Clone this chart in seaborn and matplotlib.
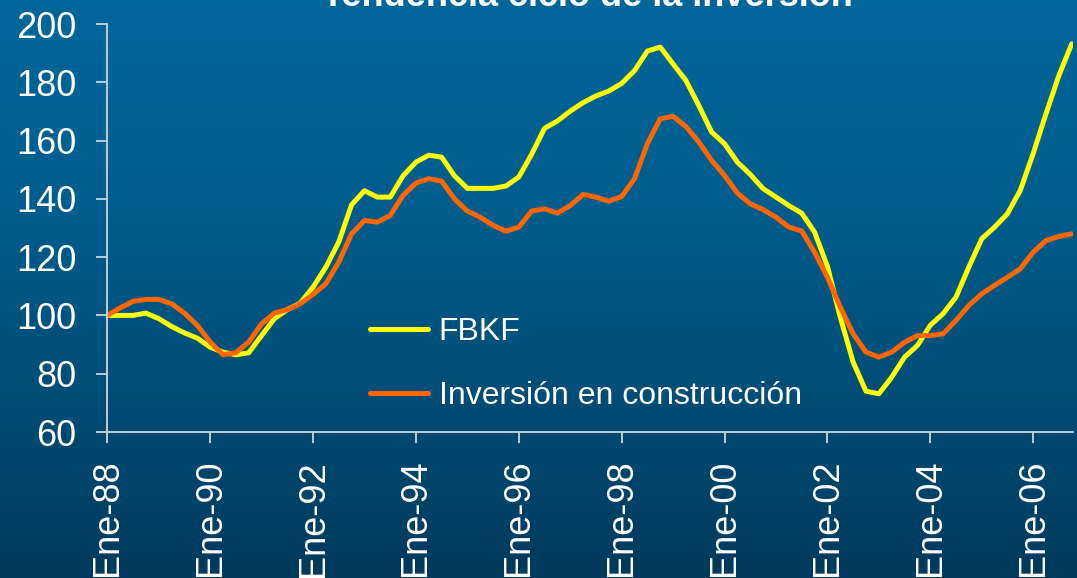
import numpy as np
import pandas as pd
import seaborn as sns
import matplotlib.pyplot as plt
from matplotlib.colors import LinearSegmentedColormap

# --------------------------------------------------
# Data (quarterly index, Ene-88 = 100)
# --------------------------------------------------

fbkf = [
    100.0, 100.0, 100.0, 100.8, 98.9, 96.2, 94.0, 92.2, 89.1, 87.4,
    86.5, 87.2, 93.1, 98.9, 102.0, 104.2, 109.7, 116.6, 125.2, 138.0,
    142.8, 140.6, 140.6, 147.9, 152.6, 155.0, 154.3, 147.9, 143.6, 143.6,
    143.6, 144.4, 147.5, 155.3, 164.2, 166.7, 170.1, 173.0, 175.3, 177.0,
    179.6, 184.0, 190.7, 192.1, 186.3, 180.6, 172.0, 162.9, 158.9, 152.6,
    148.4, 143.5, 140.6, 137.7, 135.1, 128.6, 116.9, 99.4, 84.0, 74.0,
    73.1, 78.8, 85.7, 89.7, 96.6, 100.6, 106.3, 116.6, 126.3, 130.3,
    134.9, 142.9, 155.5, 169.2, 182.3, 193.2,
]

construccion = [
    100.0, 102.6, 104.8, 105.5, 105.5, 104.0, 100.8, 96.6, 90.9, 86.5,
    87.2, 90.9, 97.1, 100.8, 102.0, 104.0, 107.2, 110.9, 118.3, 128.0,
    132.6, 132.0, 134.3, 141.2, 145.4, 146.9, 146.1, 140.0, 135.8, 133.7,
    130.9, 128.9, 130.3, 135.8, 136.6, 135.1, 137.7, 141.5, 140.6, 139.2,
    140.8, 146.9, 158.9, 167.5, 168.3, 164.8, 159.5, 153.2, 148.0, 142.0,
    138.3, 136.3, 133.7, 130.3, 129.0, 121.7, 113.1, 102.9, 93.7, 87.4,
    85.7, 87.4, 90.8, 93.1, 93.1, 93.7, 98.3, 103.4, 107.4, 110.3,
    113.1, 116.0, 121.7, 125.7, 127.1, 128.0,
]

tick_labels = ["Ene-88", "Ene-90", "Ene-92", "Ene-94", "Ene-96",
               "Ene-98", "Ene-00", "Ene-02", "Ene-04", "Ene-06"]

SERIES = ["FBKF", "Inversión en construcción"]
COLORS = {"FBKF": "#FFFF00", "Inversión en construcción": "#FF6600"}

quarters = np.arange(len(fbkf))
df = pd.DataFrame({
    "t": np.concatenate([quarters, quarters]),
    "valor": fbkf + construccion,
    "serie": [SERIES[0]] * len(fbkf) + [SERIES[1]] * len(construccion),
})

# --------------------------------------------------
# Figure
# --------------------------------------------------

sns.set_style("white")
plt.rcParams["font.family"] = ["Liberation Sans", "DejaVu Sans"]

W, H = 1077, 578
fig = plt.figure(figsize=(W / 100, H / 100), dpi=100)

# gradient background
bg = fig.add_axes([0, 0, 1, 1], zorder=0)
cmap = LinearSegmentedColormap.from_list(
    "bg", ["#00679B", "#005E8E", "#004E78", "#003A5C"])
grad = np.linspace(0, 1, 256).reshape(-1, 1)
bg.imshow(grad, aspect="auto", cmap=cmap, extent=[0, 1, 0, 1])
bg.set_axis_off()

ax = fig.add_axes([107.3 / W, 1 - 432 / H, (1073 - 107.3) / W, (432 - 24) / H],
                  zorder=1)
ax.set_facecolor("none")

sns.lineplot(
    data=df, x="t", y="valor", hue="serie", hue_order=SERIES,
    palette=COLORS, linewidth=3.6, ax=ax, legend=True,
)

ax.set_xlim(0, 75.1)
ax.set_ylim(60, 200)
ax.set_yticks(range(60, 201, 20))
ax.set_xticks(range(0, 76, 8))
ax.set_xticklabels(tick_labels, rotation=90)
ax.set_xlabel("")
ax.set_ylabel("")

axis_col = "#C9D6DE"
for side in ["top", "right"]:
    ax.spines[side].set_visible(False)
for side in ["left", "bottom"]:
    ax.spines[side].set_color(axis_col)
    ax.spines[side].set_linewidth(1.3)

ax.tick_params(axis="y", left=True, direction="out", length=8, width=1.3,
               color=axis_col, labelcolor="white", labelsize=26, pad=14)
ax.tick_params(axis="x", bottom=True, direction="out", length=8, width=1.3,
               color=axis_col, labelcolor="white", labelsize=26, pad=12)

leg = ax.legend(
    loc="upper left", bbox_to_anchor=(370 / W, 1 - 317 / H),
    bbox_transform=fig.transFigure, frameon=False, fontsize=23,
    handlelength=1.8, handletextpad=0.35, labelspacing=1.08,
    borderpad=0, borderaxespad=0,
)
for line in leg.get_lines():
    line.set_linewidth(3.6)
for txt in leg.get_texts():
    txt.set_color("white")

fig.text(587 / W, 1 - 6 / H, "Tendencia ciclo de la inversión",
         ha="center", va="baseline", fontsize=26, fontweight="bold",
         color="white")

fig.savefig("out.png", dpi=100)
